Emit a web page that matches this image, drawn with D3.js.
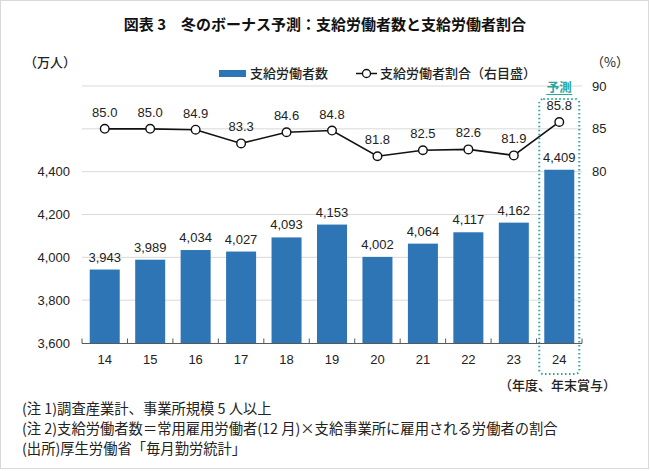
<!DOCTYPE html>
<html><head><meta charset="utf-8">
<script src="https://cdn.jsdelivr.net/npm/d3@7"></script>
<style>body{margin:0;background:#fff}svg{display:block}</style>
</head><body>
<script>
const categories = ["14","15","16","17","18","19","20","21","22","23","24"];
const workers = [3943,3989,4034,4027,4093,4153,4002,4064,4117,4162,4409];
const ratio = [85.0,85.0,84.9,83.3,84.6,84.8,81.8,82.5,82.6,81.9,85.8];
const leftTicks = [3600,3800,4000,4200,4400,4600,4800];
const leftTickLabels = ["3,600","3,800","4,000","4,200","4,400","",""];
const rightTicks = [80,85,90];
const notes = ["(注 1)調査産業計、事業所規模 5 人以上","(注 2)支給労働者数＝常用雇用労働者(12 月)×支給事業所に雇用される労働者の割合","(出所)厚生労働省「毎月勤労統計」"];

const W=650,H=471;
const sans='"Liberation Sans", Arial, "Noto Sans CJK JP", sans-serif';
const jp='"Noto Sans CJK JP", sans-serif';
const svg=d3.select("body").append("svg").attr("width",W).attr("height",H);
svg.append("rect").attr("x",0.5).attr("y",0.5).attr("width",648).attr("height",468).attr("fill","#fff").attr("stroke","#d9d9d9");

const x=d3.scaleBand().domain(categories).range([82,582]).paddingInner(0.34).paddingOuter(0.17);
const yL=d3.scaleLinear().domain([3600,4800]).range([343,86]);
const yR=d3.scaleLinear().domain([60,90]).range([343,86]);

// grid
svg.append("g").selectAll("line").data(leftTicks.slice(1)).join("line")
 .attr("x1",82).attr("x2",582).attr("y1",d=>yL(d)).attr("y2",d=>yL(d))
 .attr("stroke","#d9d9d9").attr("stroke-width",1);

// left labels
svg.append("g").selectAll("text").data(leftTicks).join("text")
 .attr("x",70).attr("y",d=>yL(d)+4.5).attr("text-anchor","end")
 .attr("font-family",sans).attr("font-size",13).attr("fill","#222")
 .text((d,i)=>leftTickLabels[i]);
// right labels
svg.append("g").selectAll("text").data(rightTicks).join("text")
 .attr("x",592).attr("y",d=>yR(d)+4.5)
 .attr("font-family",sans).attr("font-size",13).attr("fill","#222").text(d=>d);

// bars
const barColor="#2e75b6";
svg.append("g").selectAll("rect").data(categories).join("rect")
 .attr("x",d=>x(d)).attr("width",x.bandwidth())
 .attr("y",(d,i)=>yL(workers[i])).attr("height",(d,i)=>yL(3600)-yL(workers[i]))
 .attr("fill",barColor);
svg.append("g").selectAll("text").data(categories).join("text")
 .attr("x",d=>x(d)+x.bandwidth()/2).attr("y",(d,i)=>yL(workers[i])-8)
 .attr("text-anchor","middle").attr("font-family",sans).attr("font-size",13).attr("fill","#222")
 .text((d,i)=>d3.format(",")(workers[i]));

// x axis
const step=x.step();
svg.append("line").attr("x1",82).attr("x2",582).attr("y1",343.5).attr("y2",343.5).attr("stroke","#595959").attr("stroke-width",1.2);
const bounds=d3.range(categories.length+1).map(i=>82+i*step);
svg.append("g").selectAll("line").data(bounds).join("line")
 .attr("x1",d=>d).attr("x2",d=>d).attr("y1",338.5).attr("y2",343.5).attr("stroke","#595959");
svg.append("g").selectAll("text").data(categories).join("text")
 .attr("x",d=>x(d)+x.bandwidth()/2).attr("y",364).attr("text-anchor","middle")
 .attr("font-family",sans).attr("font-size",13).attr("fill","#222").text(d=>d);

// line
const cx=(d,i)=>x(categories[i])+x.bandwidth()/2;
svg.append("path").datum(ratio)
 .attr("d",d3.line().x((d,i)=>cx(d,i)).y(d=>yR(d)))
 .attr("fill","none").attr("stroke","#111").attr("stroke-width",1.6);
svg.append("g").selectAll("circle").data(ratio).join("circle")
 .attr("cx",cx).attr("cy",d=>yR(d)).attr("r",4.3)
 .attr("fill","#fff").attr("stroke","#111").attr("stroke-width",1.4);
svg.append("g").selectAll("text").data(ratio).join("text")
 .attr("x",cx).attr("y",d=>yR(d)-12).attr("text-anchor","middle")
 .attr("font-family",sans).attr("font-size",13).attr("fill","#222").text(d=>d.toFixed(1));

// forecast box
const teal="#2aa6a0";
const last=categories[categories.length-1];
svg.append("rect").attr("x",x(last)-5).attr("y",99).attr("width",x.bandwidth()+10).attr("height",275)
 .attr("rx",4).attr("fill","none").attr("stroke",teal).attr("stroke-width",2).attr("stroke-dasharray","1.5 2.5");
svg.append("text").attr("x",x(last)+x.bandwidth()/2).attr("y",92).attr("text-anchor","middle")
 .attr("font-family",jp).attr("font-weight",700).attr("font-size",12.5).attr("fill",teal).text("予測");
svg.append("line").attr("x1",x(last)+x.bandwidth()/2-13).attr("x2",x(last)+x.bandwidth()/2+13)
 .attr("y1",94.5).attr("y2",94.5).attr("stroke",teal).attr("stroke-width",1);

// title
svg.append("text").attr("x",325).attr("y",30).attr("text-anchor","middle")
 .attr("font-family",jp).attr("font-weight",700).attr("font-size",15).attr("fill","#111")
 .text("図表 3　冬のボーナス予測：支給労働者数と支給労働者割合");

// unit labels
svg.append("text").attr("x",24).attr("y",67).attr("font-family",jp).attr("font-weight",500).attr("font-size",13).attr("fill","#222").text("（万人）");
svg.append("text").attr("x",591).attr("y",67).attr("font-family",jp).attr("font-size",13).attr("fill","#222").text("（%）");
svg.append("text").attr("x",616).attr("y",390).attr("text-anchor","end").attr("font-family",jp).attr("font-weight",500).attr("font-size",13).attr("fill","#222").text("（年度、年末賞与）");

// legend
svg.append("rect").attr("x",219).attr("y",70).attr("width",27).attr("height",7).attr("fill",barColor);
svg.append("text").attr("x",250).attr("y",78).attr("font-family",jp).attr("font-weight",500).attr("font-size",13).attr("fill","#222").text("支給労働者数");
svg.append("line").attr("x1",356).attr("x2",377).attr("y1",73.5).attr("y2",73.5).attr("stroke","#111").attr("stroke-width",1.5);
svg.append("circle").attr("cx",366.5).attr("cy",73.5).attr("r",4).attr("fill","#fff").attr("stroke","#111").attr("stroke-width",1.3);
svg.append("text").attr("x",380).attr("y",78).attr("font-family",jp).attr("font-weight",500).attr("font-size",13).attr("fill","#222").text("支給労働者割合（右目盛）");

// notes
svg.append("g").selectAll("text").data(notes).join("text")
 .attr("x",22).attr("y",(d,i)=>414+i*20).attr("font-family",jp).attr("font-size",14.3).attr("fill","#222").text(d=>d);
</script>
</body></html>
